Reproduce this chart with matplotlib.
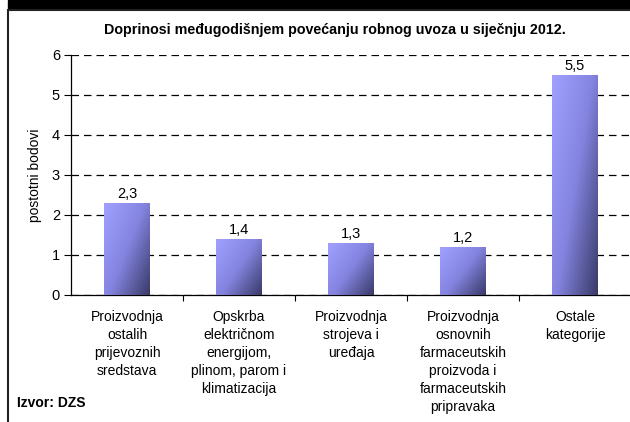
import numpy as np
import matplotlib.pyplot as plt
from matplotlib.patches import Rectangle
from matplotlib.colors import LinearSegmentedColormap

plt.rcParams['font.family'] = ['Liberation Sans', 'DejaVu Sans']

categories = [
    "Proizvodnja\nostalih\nprijevoznih\nsredstava",
    "Opskrba\nelektričnom\nenergijom,\nplinom, parom i\nklimatizacija",
    "Proizvodnja\nstrojeva i\nuređaja",
    "Proizvodnja\nosnovnih\nfarmaceutskih\nproizvoda i\nfarmaceutskih\npripravaka",
    "Ostale\nkategorije",
]
values = [2.3, 1.4, 1.3, 1.2, 5.5]
value_labels = ["2,3", "1,4", "1,3", "1,2", "5,5"]
title = "Doprinosi međugodišnjem povećanju robnog uvoza u siječnju 2012."
ylabel = "postotni bodovi"
source = "Izvor: DZS"

W, H = 630, 422
fig = plt.figure(figsize=(W / 100, H / 100), dpi=100)

# thick band at the top and the frame
fig.patches.append(Rectangle((8 / W, 1 - 8 / H), 1, 8 / H, transform=fig.transFigure,
                             color='black', zorder=0))
fig.patches.append(Rectangle((8 / W, -0.1), 1, (H - 10) / H + 0.1, transform=fig.transFigure,
                             fill=False, edgecolor='#222222', linewidth=1.5, zorder=0))

ax = fig.add_axes([71 / W, (H - 295) / H, 560 / W, 240 / H])
ax.set_facecolor('none')

x = np.arange(len(values))
bw = 0.41
cmap = LinearSegmentedColormap.from_list('bar', ['#a0a0ff', '#8484e0', '#3a3a68'])
u, v = np.meshgrid(np.linspace(0, 1, 60), np.linspace(0, 1, 200))
grad = 0.55 * u + 0.45 * v
bars = ax.bar(x, values, width=bw, color='none', edgecolor='none', zorder=3)
for b in bars:
    x0, y0 = b.get_x(), b.get_y()
    im = ax.imshow(grad, cmap=cmap, vmin=0, vmax=1, aspect='auto', origin='upper',
                   extent=[x0, x0 + b.get_width(), y0, y0 + b.get_height()],
                   zorder=3, interpolation='bilinear')
    im.set_clip_path(b)

for xi, val, lab in zip(x, values, value_labels):
    ax.text(xi, val + 0.06, lab, ha='center', va='bottom', fontsize=10.5, zorder=4)

ax.set_xlim(-0.5, len(values) - 0.5)
ax.set_ylim(0, 6)
ax.set_yticks(range(0, 7))
ax.set_yticklabels([str(i) for i in range(0, 7)], fontsize=10.5)
ax.yaxis.grid(True, linestyle=(0, (6, 4)), color='black', linewidth=0.9, zorder=1)
ax.set_axisbelow(True)

ax.set_xticks(x)
ax.set_xticklabels(categories, fontsize=10, linespacing=1.35, va='top')
ax.set_xticks(np.arange(0.5, len(values) - 0.5), minor=True)
ax.tick_params(axis='x', which='major', length=0, pad=11)
ax.tick_params(axis='x', which='minor', length=4, width=0.8)
ax.tick_params(axis='y', length=5, width=0.8, pad=3)

for s in ['top', 'right']:
    ax.spines[s].set_visible(False)
ax.spines['left'].set_linewidth(0.9)
ax.spines['bottom'].set_linewidth(0.9)

ax.set_ylabel(ylabel, fontsize=10, labelpad=7)

fig.text(335 / W, 1 - 30 / H, title, ha='center', va='center', fontsize=10.3,
         fontweight='bold')
fig.text(17 / W, 1 - 403 / H, source, ha='left', va='center', fontsize=10,
         fontweight='bold')

plt.savefig('out.png', dpi=100)
